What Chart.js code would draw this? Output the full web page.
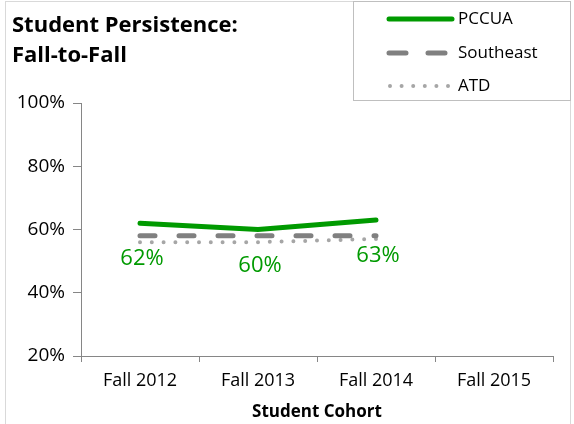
<!DOCTYPE html>
<html>
<head>
<meta charset="utf-8">
<script src="https://cdn.jsdelivr.net/npm/chart.js@4.4.0/dist/chart.umd.min.js"></script>
<style>
html,body{margin:0;padding:0;background:#fff;}
#wrap{width:574px;height:424px;position:relative;}
</style>
</head>
<body>
<div id="wrap"><canvas id="c" width="574" height="424"></canvas></div>
<script>
const categories = ["Fall 2012", "Fall 2013", "Fall 2014", "Fall 2015"];
const pccua = [62, 60, 63, null];
const southeast = [58, 58, 58, null];
const atd = [56, 56, 57, null];
const pccuaLabels = ["62%", "60%", "63%", null];
const titleLines = ["Student Persistence:", "Fall-to-Fall"];
const xTitle = "Student Cohort";
const yTicks = [20, 40, 60, 80, 100];

const FONT = "'Open Sans', 'Noto Sans', sans-serif";
const GREEN = "#009a00";
const AXIS = "#868686";

const decor = {
  id: 'decor',
  beforeDraw(chart) {
    const ctx = chart.ctx;
    ctx.save();
    ctx.fillStyle = '#fff';
    ctx.fillRect(0, 0, chart.width, chart.height);
    ctx.strokeStyle = '#d9d9d9';
    ctx.lineWidth = 1;
    ctx.strokeRect(5.5, 1.5, 565, 440);
    ctx.restore();
  },
  afterDraw(chart) {
    const ctx = chart.ctx;
    ctx.save();
    // title
    ctx.fillStyle = '#000';
    ctx.font = "bold 22px " + FONT;
    ctx.textAlign = 'left';
    ctx.textBaseline = 'middle';
    ctx.fillText(titleLines[0], 12, 26);
    ctx.fillText(titleLines[1], 12, 56);
    // legend box
    ctx.fillStyle = '#fff';
    ctx.fillRect(353, 1, 218, 100);
    ctx.strokeStyle = '#bfbfbf';
    ctx.lineWidth = 1;
    ctx.strokeRect(353.5, 1.5, 217, 99);
    const rows = [19, 53, 86];
    chart.data.datasets.forEach((ds, i) => {
      const y = rows[i];
      ctx.save();
      ctx.strokeStyle = ds.borderColor;
      ctx.lineWidth = ds.borderWidth;
      ctx.lineCap = ds.borderCapStyle || 'butt';
      ctx.setLineDash(ds.legendDash || []);
      ctx.beginPath();
      ctx.moveTo(ds.legendStart || 389, y);
      ctx.lineTo(452, y);
      ctx.stroke();
      ctx.restore();
      ctx.fillStyle = '#000';
      ctx.font = "17px " + FONT;
      ctx.textAlign = 'left';
      ctx.textBaseline = 'middle';
      ctx.fillText(ds.label, 458, y);
    });
    // data labels for PCCUA
    const meta = chart.getDatasetMeta(0);
    ctx.fillStyle = GREEN;
    ctx.font = "22px " + FONT;
    ctx.textAlign = 'center';
    ctx.textBaseline = 'middle';
    meta.data.forEach((pt, i) => {
      if (pccuaLabels[i] == null) return;
      ctx.fillText(pccuaLabels[i], pt.x + 2, pt.y + 36);
    });
    ctx.restore();
  }
};

new Chart(document.getElementById('c'), {
  type: 'line',
  data: {
    labels: categories,
    datasets: [
      { label: 'PCCUA', data: pccua, borderColor: GREEN, borderWidth: 5,
        borderCapStyle: 'round', pointRadius: 0, tension: 0, fill: false, order: 0,
        legendStart: 389 },
      { label: 'Southeast', data: southeast, borderColor: '#808080', borderWidth: 5,
        borderCapStyle: 'round', borderDash: [15, 24], pointRadius: 0, tension: 0, fill: false, order: 1,
        legendDash: [17, 22], legendStart: 389 },
      { label: 'ATD', data: atd, borderColor: '#a6a6a6', borderWidth: 4,
        borderCapStyle: 'round', borderDash: [0, 11.8], pointRadius: 0, tension: 0, fill: false, order: 2,
        legendDash: [0, 11.6], legendStart: 390 }
    ]
  },
  options: {
    responsive: false,
    animation: false,
    devicePixelRatio: 1,
    layout: { padding: { top: 103, right: 21, left: 0, bottom: 0 } },
    plugins: { legend: { display: false }, title: { display: false }, tooltip: { enabled: false } },
    scales: {
      x: {
        offset: true,
        grid: { display: true, offset: true, drawOnChartArea: false, tickLength: 6, color: AXIS },
        border: { display: true, color: AXIS, width: 1 },
        ticks: { color: '#000', font: { family: FONT, size: 18 }, padding: 8, maxRotation: 0 },
        title: { display: true, text: xTitle, color: '#000', font: { family: FONT, size: 17, weight: 'bold' }, padding: { top: 0, bottom: 2 } },
        afterFit(s) { s.height = 68; }
      },
      y: {
        min: 20, max: 100,
        afterBuildTicks(s) { s.ticks = yTicks.map(v => ({ value: v })); },
        grid: { display: true, drawOnChartArea: false, tickLength: 8, color: AXIS },
        border: { display: true, color: AXIS, width: 1 },
        ticks: { color: '#000', font: { family: FONT, size: 19 }, padding: 8, callback: v => v + '%' },
        afterFit(s) { s.width = 81; }
      }
    }
  },
  plugins: [decor]
});
</script>
</body>
</html>
